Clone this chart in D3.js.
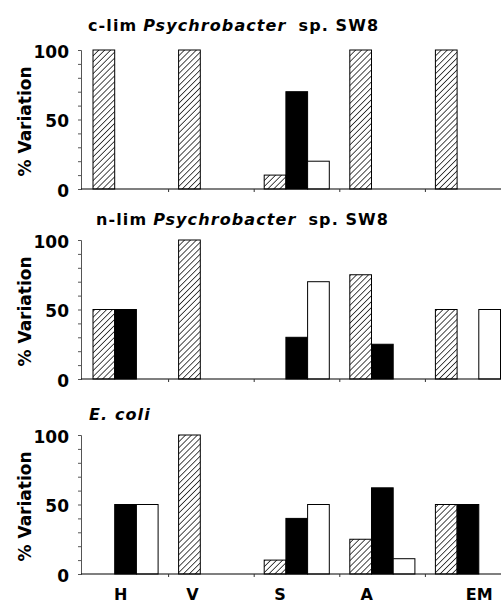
<!DOCTYPE html>
<html>
<head>
<meta charset="utf-8">
<script src="https://cdn.jsdelivr.net/npm/d3@7"></script>
<style>
  body { margin: 0; background: #fff; }
  text { font-family: "DejaVu Sans", "Liberation Sans", Arial, sans-serif; font-weight: bold; fill: #000; }
</style>
</head>
<body>
<div id="my_dataviz"></div>
<script>
// categories and series
var categories = ["H", "V", "S", "A", "EM"];
var seriesNames = ["hatched", "black", "white"];

// % variation, one array per panel, each row = [hatched, black, white]
var cLim = [[100, 0, 0], [100, 0, 0], [10, 70, 20], [100, 0, 0], [100, 0, 0]];
var nLim = [[50, 50, 0], [100, 0, 0], [0, 30, 70], [75, 25, 0], [50, 0, 50]];
var eColi = [[0, 50, 50], [100, 0, 0], [10, 40, 50], [25, 62, 11], [50, 50, 0]];

var yTickLabels = [0, 50, 100];
var yMinorTicks = [0, 10, 20, 30, 40, 50, 60, 70, 80, 90, 100];

var panels = [
  { title: [["c-lim", "normal"], ["Psychrobacter", "italic"], ["sp. SW8", "normal"]], data: cLim, top: 50, titleX: 88, titleY: 31 },
  { title: [["n-lim", "normal"], ["Psychrobacter", "italic"], ["sp. SW8", "normal"]], data: nLim, top: 240, titleX: 96, titleY: 225 },
  { title: [["E. coli", "italic"]], data: eColi, top: 435, titleX: 89, titleY: 420 }
];
var titleGaps = [6, 12];

// small horizontal nudges for the hand-placed category labels
var labelNudge = [-5, -19, -17, -16, 11];

var width = 501, height = 605;
var axisX = 81, panelH = 139;

var svg = d3.select("#my_dataviz")
  .append("svg")
    .attr("width", width)
    .attr("height", height);

// hatch pattern
var defs = svg.append("defs");
defs.append("pattern")
    .attr("id", "hatch")
    .attr("patternUnits", "userSpaceOnUse")
    .attr("width", 4.2)
    .attr("height", 4.2)
    .attr("patternTransform", "rotate(45)")
  .call(function(p) {
    p.append("rect").attr("width", 4.2).attr("height", 4.2).attr("fill", "#fff");
    p.append("line")
      .attr("x1", 0).attr("y1", 0).attr("x2", 0).attr("y2", 4.2)
      .attr("stroke", "#000").attr("stroke-width", 1.4);
  });

var fills = { hatched: "url(#hatch)", black: "#000", white: "#fff" };

// x scales
var x = d3.scaleBand()
  .domain(categories)
  .range([83, 511])
  .paddingInner(0);

var xSub = d3.scaleBand()
  .domain(seriesNames)
  .range([10, 10 + 3 * 21.7]);

panels.forEach(function(panel, pi) {
  var y = d3.scaleLinear()
    .domain([0, 100])
    .range([panel.top + panelH, panel.top]);

  var g = svg.append("g");

  // title, one text element per style run
  var cx = panel.titleX;
  panel.title.forEach(function(part, k) {
    var t = g.append("text")
      .attr("x", cx)
      .attr("y", panel.titleY)
      .style("font-size", "16px")
      .style("letter-spacing", "1.1px")
      .style("font-style", part[1])
      .text(part[0]);
    cx += t.node().getComputedTextLength() + (titleGaps[k] || 0);
  });

  // y axis
  var yAxis = g.append("g")
    .attr("transform", "translate(" + axisX + ",0)")
    .call(d3.axisLeft(y).tickValues(yMinorTicks).tickSize(3).tickFormat(""));
  yAxis.select(".domain").attr("stroke", "#555").attr("stroke-width", 1);
  yAxis.selectAll(".tick line").attr("stroke", "#555");

  g.selectAll(".ylab")
    .data(yTickLabels)
    .enter().append("text")
      .attr("class", "ylab")
      .attr("x", 69)
      .attr("y", function(d) { return y(d) + 2; })
      .attr("dy", "0.35em")
      .attr("text-anchor", "end")
      .style("font-size", "17px")
      .text(function(d) { return d; });

  g.append("text")
    .attr("transform", "translate(31," + (panel.top + panelH / 2 + 2) + ") rotate(-90)")
    .attr("text-anchor", "middle")
    .style("font-size", "17px")
    .text("% Variation");

  // bars
  var groups = g.selectAll(".grp")
    .data(panel.data)
    .enter().append("g")
      .attr("class", "grp")
      .attr("transform", function(d, i) { return "translate(" + x(categories[i]) + ",0)"; });

  groups.selectAll("rect")
    .data(function(d) { return d.map(function(v, j) { return { key: seriesNames[j], value: v }; }); })
    .enter().append("rect")
      .attr("x", function(d) { return xSub(d.key); })
      .attr("width", xSub.bandwidth())
      .attr("y", function(d) { return y(d.value); })
      .attr("height", function(d) { return y(0) - y(d.value); })
      .attr("fill", function(d) { return fills[d.key]; })
      .attr("stroke", "#000")
      .attr("stroke-width", function(d) { return d.value === 0 ? 1.6 : 1; });

  // x axis
  g.append("line")
    .attr("x1", axisX).attr("x2", width)
    .attr("y1", y(0)).attr("y2", y(0))
    .attr("stroke", "#000").attr("stroke-width", 1.2);

  g.selectAll(".xtick")
    .data(categories.slice(1))
    .enter().append("line")
      .attr("class", "xtick")
      .attr("x1", function(d) { return x(d); })
      .attr("x2", function(d) { return x(d); })
      .attr("y1", y(0)).attr("y2", y(0) + 3)
      .attr("stroke", "#333");

  // category labels only under the last panel
  if (pi === panels.length - 1) {
    g.selectAll(".xlab")
      .data(categories)
      .enter().append("text")
        .attr("class", "xlab")
        .attr("x", function(d, i) { return x(d) + x.bandwidth() / 2 + labelNudge[i]; })
        .attr("y", 600)
        .attr("text-anchor", "middle")
        .style("font-size", "16px")
        .text(function(d) { return d; });
  }
});
</script>
</body>
</html>
